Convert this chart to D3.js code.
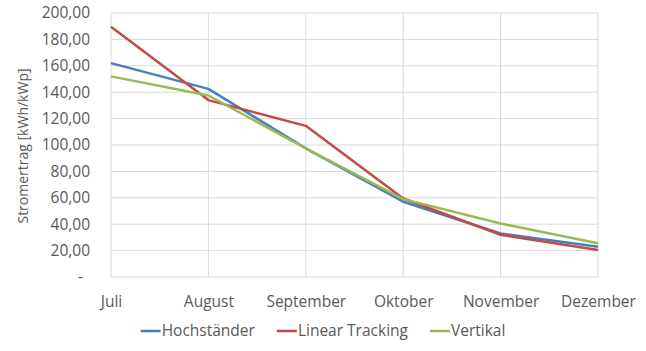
<!DOCTYPE html>
<html>
<head>
<meta charset="utf-8">
<script src="https://cdn.jsdelivr.net/npm/d3@7"></script>
<style>
  body { margin: 0; background: #fff; }
  text { font-family: "Open Sans", "DejaVu Sans", sans-serif; fill: #595959; }
</style>
</head>
<body>
<div id="chart"></div>
<script>
// months on the x axis
var months = ["Juli", "August", "September", "Oktober", "November", "Dezember"];
// series values, kWh/kWp
var hochstaender = [162, 142.5, 97.5, 57, 33, 23];
var linearTracking = [189.5, 134, 114.5, 59.5, 32, 20.5];
var vertikal = [152, 137.5, 97.5, 59, 40.5, 25.5];
var yTicks = [0, 20, 40, 60, 80, 100, 120, 140, 160, 180, 200];

var seriesNames = ["Hochständer", "Linear Tracking", "Vertikal"];
var seriesColors = ["#4a7ebb", "#be4b48", "#98b954"];
var seriesData = [hochstaender, linearTracking, vertikal];

var w = 646, h = 351;
var pLeft = 111, pRight = 598, pTop = 13, pBottom = 277;
var fs = "15.5px";

var svg = d3.select("#chart").append("svg")
  .attr("width", w).attr("height", h);

var xScale = d3.scalePoint().domain(months).range([pLeft, pRight]);
var yScale = d3.scaleLinear().domain([0, 200]).range([pBottom, pTop]);

var fmt = function(d){
  if(d === 0) return "-";
  return d3.format(".2f")(d).replace(".", ",");
};

// horizontal gridlines
svg.append("g").selectAll("line")
  .data(yTicks.filter(function(d){ return d > 0; }))
  .enter().append("line")
  .attr("x1", pLeft).attr("x2", pRight)
  .attr("y1", function(d){ return yScale(d); })
  .attr("y2", function(d){ return yScale(d); })
  .attr("stroke", "#d9d9d9").attr("stroke-width", 1);

// vertical gridlines
svg.append("g").selectAll("line")
  .data(months)
  .enter().append("line")
  .attr("x1", function(d){ return xScale(d); })
  .attr("x2", function(d){ return xScale(d); })
  .attr("y1", pTop).attr("y2", pBottom)
  .attr("stroke", "#d9d9d9").attr("stroke-width", 1);

// bottom axis line
svg.append("line")
  .attr("x1", pLeft).attr("x2", pRight)
  .attr("y1", pBottom).attr("y2", pBottom)
  .attr("stroke", "#d9d9d9").attr("stroke-width", 1);

// y axis labels
var yAxis = svg.append("g")
  .attr("transform", "translate(" + (pLeft - 21) + ",0)")
  .call(d3.axisLeft(yScale).tickValues(yTicks).tickFormat(fmt).tickSize(0).tickPadding(0));
yAxis.select(".domain").remove();
yAxis.selectAll("text")
  .attr("font-size", fs)
  .attr("fill", "#595959")
  .style("font-family", "'Open Sans', sans-serif")
  .attr("dx", function(d){ return d === 0 ? -7 : 0; });

// x axis labels
var xAxis = svg.append("g")
  .attr("transform", "translate(0," + (pBottom + 19) + ")")
  .call(d3.axisBottom(xScale).tickSize(0).tickPadding(0));
xAxis.select(".domain").remove();
xAxis.selectAll("text")
  .attr("font-size", fs)
  .attr("fill", "#595959")
  .style("font-family", "'Open Sans', sans-serif");

// y axis title
svg.append("text")
  .attr("transform", "translate(23," + ((pTop + pBottom) / 2 + 1) + ") rotate(-90)")
  .attr("text-anchor", "middle")
  .attr("dy", "0.35em")
  .attr("font-size", "14px")
  .text("Stromertrag [kWh/kWp]");

// lines
var line = d3.line()
  .x(function(d, i){ return xScale(months[i]); })
  .y(function(d){ return yScale(d); });

for(var i = 0; i < seriesData.length; i++){
  svg.append("path")
    .datum(seriesData[i])
    .attr("d", line)
    .attr("fill", "none")
    .attr("stroke", seriesColors[i])
    .attr("stroke-width", 2.5)
    .attr("stroke-linejoin", "round");
}

// legend
var legend = svg.append("g");
var lx = 0;
for(var j = 0; j < seriesNames.length; j++){
  var g = legend.append("g").attr("transform", "translate(" + lx + ",0)");
  g.append("line")
    .attr("x1", 0).attr("x2", 20).attr("y1", 0).attr("y2", 0)
    .attr("stroke", seriesColors[j]).attr("stroke-width", 2.5);
  var t = g.append("text")
    .attr("x", 21).attr("dy", "0.35em")
    .attr("font-size", fs)
    .text(seriesNames[j]);
  lx += 21 + t.node().getComputedTextLength() + 22;
}
var totalW = lx - 22;
legend.attr("transform", "translate(" + (w / 2 - totalW / 2) + ",331)");
</script>
</body>
</html>
